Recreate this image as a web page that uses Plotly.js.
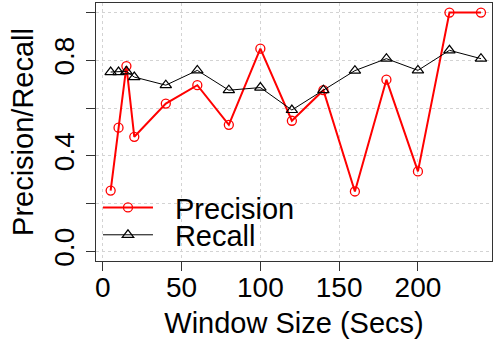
<!DOCTYPE html>
<html><head><meta charset="utf-8">
<script src="https://cdn.plot.ly/plotly-3.0.1.min.js"></script>
<style>body{margin:0;padding:0;background:#fff}#chart{width:493px;height:345px}</style>
</head><body><div id="chart"></div>
<script>
const windowSize = [5, 10, 15, 20, 40, 60, 80, 100, 120, 140, 160, 180, 200, 220, 240];
const precision = [0.255, 0.518, 0.776, 0.48, 0.619, 0.696, 0.53, 0.849, 0.547, 0.675, 0.251, 0.719, 0.335, 1.0, 1.0];
const recall = [0.751, 0.751, 0.754, 0.73, 0.696, 0.758, 0.675, 0.686, 0.592, 0.675, 0.757, 0.807, 0.758, 0.842, 0.807];
const xTicks = [0, 50, 100, 150, 200];
const yTicks = [0, 0.2, 0.4, 0.6, 0.8, 1.0];
const yTickText = ['0.0', '', '0.4', '', '0.8', ''];
const seriesNames = ['Precision', 'Recall'];

const FONT = 'Liberation Sans, Arial, sans-serif';
const PAD = '\u2002\u200A';
const traces = [
  {x: windowSize, y: precision, name: PAD + seriesNames[0], type: 'scatter', mode: 'lines+markers',
   line: {color: '#ff0000', width: 2},
   marker: {symbol: 'circle-open', size: 9, color: '#ff0000', line: {width: 1.3, color: '#ff0000'}},
   legend: 'legend'},
  {x: windowSize, y: recall, name: PAD + seriesNames[1], type: 'scatter', mode: 'lines+markers',
   line: {color: '#000000', width: 1},
   marker: {symbol: 'triangle-up-open', size: 10, color: '#000000', line: {width: 1.2, color: '#000000'}},
   legend: 'legend2'}
];
const legendCommon = {bgcolor: 'rgba(0,0,0,0)', font: {family: FONT, size: 29, color: '#000'},
  itemwidth: 50, xanchor: 'left', yanchor: 'middle', borderwidth: 0, tracegroupgap: 0};
const layout = {
  width: 493, height: 345,
  margin: {l: 96, r: 1, t: 3, b: 84},
  paper_bgcolor: '#fff', plot_bgcolor: '#fff',
  font: {family: FONT, color: '#000'},
  showlegend: true,
  legend: Object.assign({}, legendCommon, {x: 0.005, y: 0.207}),
  legend2: Object.assign({}, legendCommon, {x: 0.005, y: 0.101}),
  xaxis: {range: [-4.3, 247], tickvals: xTicks, ticktext: xTicks.map(String),
    showgrid: true, gridcolor: '#d3d3d3', griddash: 'dot', gridwidth: 1,
    zeroline: false, showline: true, mirror: true, linecolor: '#333', linewidth: 1,
    ticks: 'outside', ticklen: 9, tickcolor: '#333', tickwidth: 1, ticklabelstandoff: -8,
    tickfont: {family: FONT, size: 28, color: '#000'},
    title: {text: 'Window Size (Secs)', font: {family: FONT, size: 29, color: '#000'}, standoff: 11}},
  yaxis: {range: [-0.04, 1.04], tickvals: yTicks, ticktext: yTickText,
    showgrid: true, gridcolor: '#d3d3d3', griddash: 'dot', gridwidth: 1,
    zeroline: false, showline: true, mirror: true, linecolor: '#333', linewidth: 1,
    ticks: 'outside', ticklen: 9, tickcolor: '#333', tickwidth: 1, tickangle: -90, ticklabelstandoff: 1,
    tickfont: {family: FONT, size: 28, color: '#000'},
    title: {text: 'Precision/Recall', font: {family: FONT, size: 29, color: '#000'}, standoff: 6}}
};
Plotly.newPlot('chart', traces, layout, {displayModeBar: false, staticPlot: true});
</script></body></html>
